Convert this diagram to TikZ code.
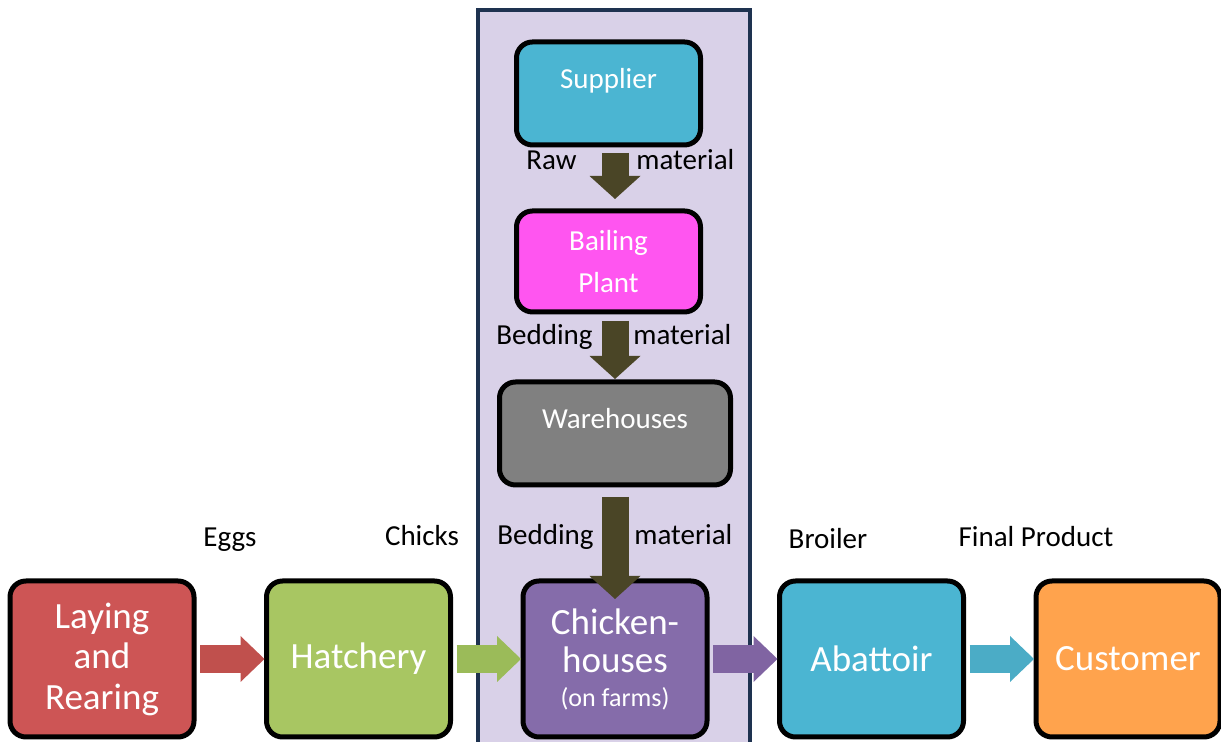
\documentclass[tikz,border=0pt]{standalone}
\usepackage{fontspec}
\setmainfont{Carlito}
\usetikzlibrary{arrows.meta,
                chains,
                positioning
                }
\definecolor{panelfill}{RGB}{217,209,232}
\definecolor{panelline}{RGB}{30,50,80}
\definecolor{layred}{RGB}{205,85,85}
\definecolor{hatchgreen}{RGB}{168,198,98}
\definecolor{chickpurple}{RGB}{133,108,170}
\definecolor{abacyan}{RGB}{75,181,210}
\definecolor{custorange}{RGB}{255,163,77}
\definecolor{bailmagenta}{RGB}{255,85,240}
\definecolor{waregray}{RGB}{128,128,128}
\definecolor{arrred}{RGB}{192,80,77}
\definecolor{arrgreen}{RGB}{155,187,89}
\definecolor{arrpurple}{RGB}{128,100,162}
\definecolor{arrcyan}{RGB}{75,172,198}
\definecolor{arrolive}{RGB}{74,69,38}

\begin{document}
\begin{tikzpicture}[
    x=0.5pt, y=0.5pt,
    node distance = 36.25pt,
    start chain = going right,
    box/.style = {draw=black, line width=2.5pt, rounded corners=8pt,
                  inner sep=0pt, outer sep=0pt, align=center, text=white,
                  minimum width=92pt, minimum height=78pt,
                  font=\fontsize{18.5}{20.25}\selectfont},
 topbox/.style = {box, minimum height=0pt, text height=23.5pt, text depth=28pt,
                  font=\fontsize{14.5}{17}\selectfont},
    lbl/.style = {inner sep=0pt, font=\fontsize{14.5}{17}\selectfont},
   flow/.style = {line width=14pt, shorten <=3pt, shorten >=1pt,
                  -{Triangle[length=12pt, width=23pt, line width=0pt]}},
   feed/.style = {draw=arrolive, line width=13.5pt,
                  -{Triangle[length=11.5pt, width=25.5pt, line width=0pt]}}
                    ]
\useasboundingbox (0,0) rectangle (1221,742);
% lavender panel behind the feed column
\filldraw[fill=panelfill, draw=panelline, line width=2pt] (478,-10) rectangle (750,732);

    \begin{scope}[every node/.append style={on chain}]
\node (lay)   [box, fill=layred] at (102,83) {Laying\\ and\\ Rearing};
\node (hatch) [box, fill=hatchgreen]  {Hatchery};
\node (chick) [box, fill=chickpurple, font=\fontsize{18.5}{19}\selectfont]
      {Chicken-\\ houses\\[-2pt] {\fontsize{13}{15}\selectfont (on farms)}};
\node (aba)   [box, fill=abacyan]     {Abattoir};
\node (cust)  [box, fill=custorange]  {Customer};
    \end{scope}
\node (ware) [topbox, fill=waregray, minimum width=115.5pt, above=48pt of chick] {Warehouses};
\node (bail) [box, fill=bailmagenta, minimum height=50.5pt,
              font=\fontsize{14.5}{21}\selectfont,
              above=35pt of ware, xshift=-3.25pt] {Bailing\\ Plant};
\node (supp) [topbox, fill=abacyan, above=33pt of bail] {Supplier};

\draw[flow, draw=arrred]    (lay)   -- (hatch);
\draw[flow, draw=arrgreen]  (hatch) -- (chick);
\draw[flow, draw=arrpurple] (chick) -- (aba);
\draw[flow, draw=arrcyan]   (aba)   -- (cust);
\draw[feed, shorten <=4pt, shorten >=6pt]   (supp.south -| chick) -- (bail.north -| chick);
\draw[feed, shorten <=4.5pt, shorten >=1.5pt] (bail.south -| chick) -- (ware.north -| chick);
\draw[feed, shorten <=6pt, shorten >=-9pt]  (ware.south -| chick) -- (chick.north);

\node (raw)  [lbl, anchor=base east] at (577,572) {Raw};
\node (mat1) [lbl, anchor=base west] at (636,572) {material};
\node (bed1) [lbl, anchor=base east] at (593,397) {Bedding};
\node (mat2) [lbl, anchor=base west] at (633,397) {material};
\node (bed2) [lbl, anchor=base east] at (594,197) {Bedding};
\node (mat3) [lbl, anchor=base west] at (634,197) {material};
\node (eggs)   [lbl, anchor=base] at (230,195)  {Eggs};
\node (chicks) [lbl, anchor=base] at (422,196)  {Chicks};
\node (broil)  [lbl, anchor=base] at (828,193)  {Broiler};
\node (final)  [lbl, anchor=base] at (1036,195) {Final Product};
    \end{tikzpicture}
\end{document}
